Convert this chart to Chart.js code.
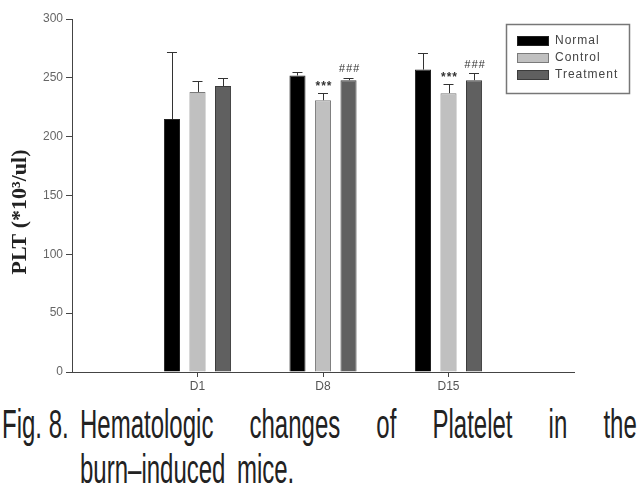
<!DOCTYPE html>
<html>
<head>
<meta charset="utf-8">
<script src="https://cdn.jsdelivr.net/npm/chart.js@4.4.1/dist/chart.umd.min.js"></script>
<style>
    body { margin: 0; background: #fff; width: 642px; height: 494px; position: relative; overflow: hidden; }
    #chart { position: absolute; left: 0; top: 0; }
    .cap { position: absolute; font-family: "Liberation Sans", Arial, sans-serif; font-size: 40px; color: #222; white-space: nowrap; transform-origin: 0 0; transform: scaleX(0.6); line-height: 1; }
    .line1 { display: flex; justify-content: space-between; }
</style>
</head>
<body>
<canvas id="chart" width="642" height="400"></canvas>
<div class="cap" style="left:2px; top:404px;">Fig. 8.</div>
<div class="cap line1" style="left:80px; top:404px; width:928px;">
    <span>Hematologic</span><span>changes</span><span>of</span><span>Platelet</span><span>in</span><span>the</span>
</div>
<div class="cap" style="left:80px; top:449px; word-spacing:8px;">burn–induced mice.</div>
<script>
const days = ["D1", "D8", "D15"];
const seriesNames = ["Normal", "Control", "Treatment"];

const normal = [215, 252, 257];
const normalErr = [57, 3, 14];
const control = [238, 231, 237];
const controlErr = [9, 6, 8];
const treatment = [243, 248, 248];
const treatmentErr = [7, 2, 6];

// significance marks over each bar (empty = none)
const controlMarks = ["", "***", "***"];
const treatmentMarks = ["", "###", "###"];

const yTicks = [0, 50, 100, 150, 200, 250, 300];

// blank slots at both ends so the axis runs 0..4 like the original
const labels = ["", ...days, ""];
const pad = (arr) => [null, ...arr, null];

const errors = [normalErr, controlErr, treatmentErr];
const marks = [[], controlMarks, treatmentMarks];

const extras = {
    id: "extras",
    afterDatasetsDraw(chart) {
        const ctx = chart.ctx;
        const y = chart.scales.y;
        ctx.save();
        chart.data.datasets.forEach((ds, i) => {
            const meta = chart.getDatasetMeta(i);
            meta.data.forEach((bar, j) => {
                const k = j - 1;
                if (k < 0 || k >= days.length) return;
                const top = y.getPixelForValue(ds.data[j]);
                const capY = y.getPixelForValue(ds.data[j] + errors[i][k]);
                ctx.strokeStyle = "#333";
                ctx.lineWidth = 1;
                ctx.beginPath();
                ctx.moveTo(Math.round(bar.x) + 0.5, top);
                ctx.lineTo(Math.round(bar.x) + 0.5, Math.round(capY) + 0.5);
                ctx.moveTo(bar.x - 5, Math.round(capY) + 0.5);
                ctx.lineTo(bar.x + 5, Math.round(capY) + 0.5);
                ctx.stroke();
                const m = marks[i][k];
                if (m) {
                    ctx.fillStyle = "#333";
                    ctx.letterSpacing = "1px";
                    ctx.font = m[0] === "#" ? "italic 11px 'Liberation Sans', Arial" : "bold 12px 'Liberation Sans', Arial";
                    ctx.textAlign = "center";
                    ctx.textBaseline = "bottom";
                    ctx.fillText(m, bar.x + 1, capY - (m[0] === "#" ? 3 : 0));
                }
            });
        });
        ctx.restore();
    },
    afterDraw(chart) {
        const ctx = chart.ctx;
        ctx.save();
        // legend box
        ctx.strokeStyle = "#777";
        ctx.lineWidth = 1.5;
        ctx.strokeRect(506.5, 24.5, 123, 69);
        ctx.font = "12px 'Liberation Sans', Arial";
        ctx.letterSpacing = "1px";
        ctx.textBaseline = "middle";
        ctx.textAlign = "left";
        chart.data.datasets.forEach((ds, i) => {
            const cy = 41 + i * 17;
            ctx.fillStyle = ds.backgroundColor;
            ctx.fillRect(517, cy - 5, 32, 10);
            ctx.strokeStyle = ds.borderColor;
            ctx.lineWidth = 1;
            ctx.strokeRect(517.5, cy - 4.5, 31, 9);
            ctx.fillStyle = "#444";
            ctx.fillText(ds.label, 555, cy);
        });
        // y axis title
        ctx.letterSpacing = "0px";
        ctx.translate(26, 212);
        ctx.rotate(-Math.PI / 2);
        ctx.textAlign = "center";
        ctx.textBaseline = "alphabetic";
        ctx.fillStyle = "#222";
        ctx.font = "bold 22px 'Liberation Serif', 'Times New Roman', serif";
        ctx.fillText("PLT (*10³/ul)", 0, 0);
        ctx.restore();
    },
};

new Chart(document.getElementById("chart"), {
    type: "bar",
    data: {
        labels: labels,
        datasets: [
            {
                label: seriesNames[0],
                data: pad(normal),
                backgroundColor: "#000000",
                borderColor: "#222222",
                borderWidth: 1,
            },
            {
                label: seriesNames[1],
                data: pad(control),
                backgroundColor: "#c0c0c0",
                borderColor: "#7a7a7a",
                borderWidth: 1,
            },
            {
                label: seriesNames[2],
                data: pad(treatment),
                backgroundColor: "#606060",
                borderColor: "#3c3c3c",
                borderWidth: 1,
            },
        ],
    },
    options: {
        responsive: false,
        animation: false,
        categoryPercentage: 0.61,
        barPercentage: 0.63,
        layout: { padding: { left: 0, right: 68, top: 19, bottom: 0 } },
        plugins: {
            legend: { display: false },
            tooltip: { enabled: false },
        },
        scales: {
            x: {
                offset: false,
                border: { display: true, color: "#444", width: 1 },
                grid: {
                    offset: false,
                    drawOnChartArea: false,
                    tickLength: 5,
                    tickColor: (c) => (labels[c.index] ? "#444" : "transparent"),
                },
                ticks: {
                    color: "#555",
                    font: { family: "'Liberation Sans', Arial", size: 12 },
                    padding: 2,
                    maxRotation: 0,
                    autoSkip: false,
                },
                afterFit(scale) { scale.height = 28; },
            },
            y: {
                min: 0,
                max: 300,
                afterBuildTicks(scale) { scale.ticks = yTicks.map((v) => ({ value: v })); },
                border: { display: true, color: "#444", width: 1 },
                grid: { drawOnChartArea: false, tickLength: 6, tickColor: "#444" },
                ticks: {
                    color: "#666",
                    font: { family: "'Liberation Sans', Arial", size: 12 },
                    padding: 3,
                },
                afterFit(scale) { scale.width = 72; },
            },
        },
    },
    plugins: [extras],
});
</script>
</body>
</html>
